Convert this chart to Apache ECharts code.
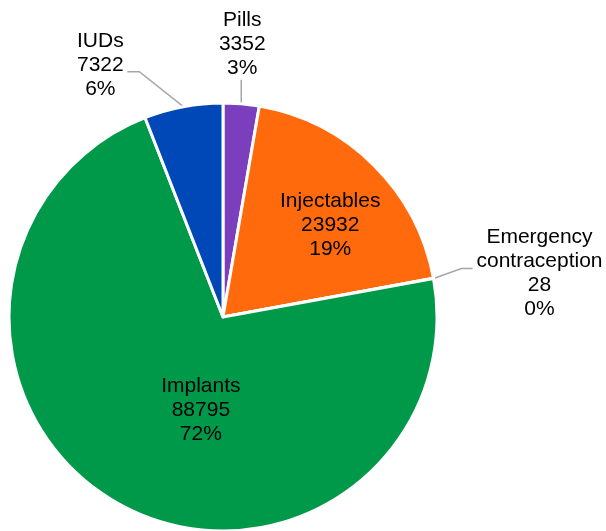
<!DOCTYPE html>
<html>
<head>
<meta charset="utf-8">
<script src="https://cdn.jsdelivr.net/npm/echarts@6/dist/echarts.min.js"></script>
<style>
  html, body { margin: 0; padding: 0; background: #fff; }
  #chart { width: 606px; height: 531px; }
</style>
</head>
<body>
<div id="chart"></div>
<script>
// data
const categories = ["Pills", "Injectables", "Emergency contraception", "Implants", "IUDs"];
const counts = [3352, 23932, 28, 88795, 7322];
const sliceColors = ["#7B3FBE", "#FF6A0C", "#A6A6A6", "#00994A", "#0048B8"];
const insideLabel = [false, true, false, true, false];

const CX = 223, CY = 317, R = 214;

// label tweaks (style only)
const labelTweak = {
  0: { line: [[0, -24], [0, -24]], text: [1, 0], align: "center", va: "bottom" },
  1: { offset: [32, -16] },
  2: { line: [[28, -10], [39, -10]], text: [67, 5], align: "center", va: "middle" },
  3: { offset: [30, 0] },
  4: { line: [[-44, -35], [-56, -35]], text: [-27, -7], align: "center", va: "middle" }
};

const total = counts.reduce((a, b) => a + b, 0);
const midAngles = [];
let acc = 0;
counts.forEach(v => {
  midAngles.push(((acc + v / 2) / total) * Math.PI * 2);
  acc += v;
});
const polar = (r, a) => [CX + r * Math.sin(a), CY - r * Math.cos(a)];

const chart = echarts.init(document.getElementById("chart"));
const option = {
  animation: false,
  series: [
    {
      type: "pie",
      center: [CX, CY],
      radius: R,
      startAngle: 90,
      clockwise: true,
      percentPrecision: 0,
      itemStyle: { borderColor: "#fff", borderWidth: 3 },
      label: {
        color: "#000",
        fontFamily: "Liberation Sans, Arial, sans-serif",
        fontSize: 21,
        lineHeight: 24,
        overflow: "none",
        formatter: p => p.name.replace(" ", "\n") + "\n" + p.value + "\n" + p.percent + "%"
      },
      labelLine: { lineStyle: { color: "#A6A6A6", width: 1.5 } },
      data: categories.map((name, i) => ({
        name: name,
        value: counts[i],
        itemStyle: { color: sliceColors[i] },
        label: { position: insideLabel[i] ? "inside" : "outside" },
        labelLine: { show: !insideLabel[i] }
      })),
      labelLayout: params => {
        const i = params.dataIndex;
        const t = labelTweak[i];
        const a = midAngles[i];
        if (insideLabel[i]) {
          const p = polar(R * 0.5, a);
          return { x: p[0] + t.offset[0], y: p[1] + t.offset[1], align: "center", verticalAlign: "middle" };
        }
        const p0 = polar(R, a);
        const p1 = [p0[0] + t.line[0][0], p0[1] + t.line[0][1]];
        const p2 = [p0[0] + t.line[1][0], p0[1] + t.line[1][1]];
        return {
          x: p2[0] + t.text[0],
          y: p2[1] + t.text[1],
          align: t.align,
          verticalAlign: t.va,
          labelLinePoints: [p0, p1, p2]
        };
      }
    }
  ]
};
chart.setOption(option);
</script>
</body>
</html>
